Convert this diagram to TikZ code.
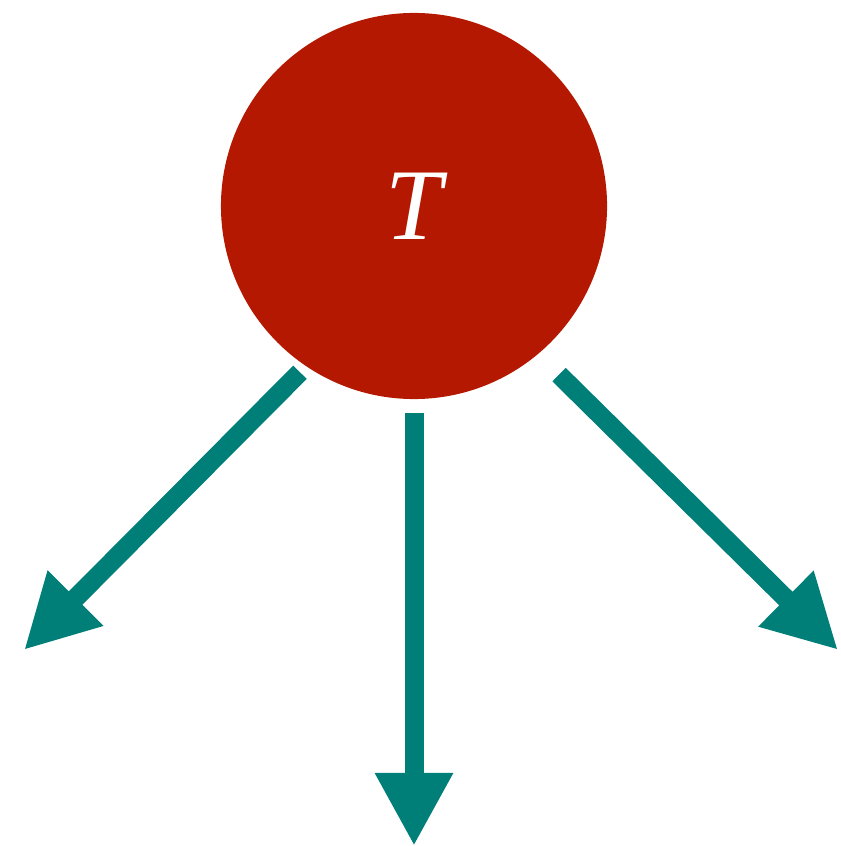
\documentclass[tikz,border=0pt]{standalone}
\usepackage{fontspec}
\newfontfamily\labelfont{Liberation Serif}
\usetikzlibrary{arrows.meta}
\definecolor{treered}{HTML}{B41800}
\definecolor{treeteal}{HTML}{007F78}

\begin{document}
\begin{tikzpicture}[x=0.025cm,y=-0.025cm,
  root/.style={circle,fill=treered,text=white,inner sep=0pt,minimum size=9.65cm,
    font=\Huge\labelfont\itshape},
  branch/.style={treeteal,line width=0.475cm,
    -{Triangle[length=1.83cm,width=1.83cm]}}]
  \useasboundingbox (0,0) rectangle (840,846);
  \node[root] (tnode) at (414,206) {\scalebox{2.9}{T}};
  \coordinate (leftend) at (24,650);
  \coordinate (midend) at (414,846);
  \coordinate (rightend) at (838,650);
  \draw[branch,shorten <=0.21cm] (tnode.236.5) -- (leftend);
  \draw[branch,shorten <=0.35cm] (tnode.south) -- (midend);
  \draw[branch,shorten <=0.73cm] (tnode.310.75) -- (rightend);
\end{tikzpicture}
\end{document}
